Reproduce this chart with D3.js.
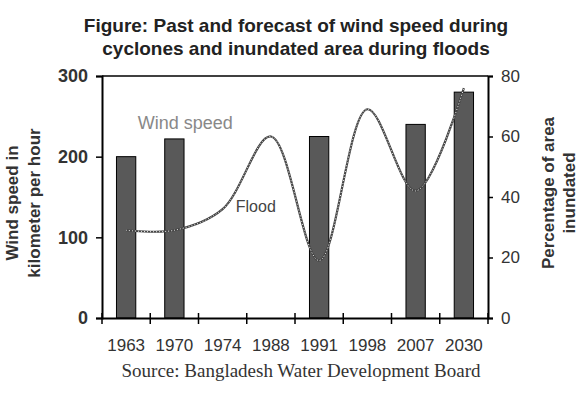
<!DOCTYPE html>
<html>
<head>
<meta charset="utf-8">
<script src="https://cdn.jsdelivr.net/npm/d3@7"></script>
<style>
  body { margin: 0; background: #fff; }
  text { font-family: "Liberation Sans", Arial, sans-serif; }
</style>
</head>
<body>
<svg id="chart" width="587" height="396"></svg>
<script>
// categories and values
var years = ["1963", "1970", "1974", "1988", "1991", "1998", "2007", "2030"];
var windYears = ["1963", "1970", "1991", "2007", "2030"];
var windSpeed = [200, 222, 225, 240, 280];        // km per hour
var floodArea = [29, 29, 36, 60, 19, 69, 42, 76]; // percent inundated
var leftTicks = [0, 100, 200, 300];
var rightTicks = [0, 20, 40, 60, 80];

var margin = {top: 76, right: 99, bottom: 78, left: 102},
    width = 587 - margin.left - margin.right,
    height = 396 - margin.top - margin.bottom;

var svg = d3.select("#chart");
var g = svg.append("g")
    .attr("transform", "translate(" + margin.left + "," + margin.top + ")");

var x = d3.scaleBand().domain(years).range([0, width]).paddingInner(0.6).paddingOuter(0.3),
    xc = d3.scaleBand().domain(years).range([0, width]), // full bands for the ticks
    yL = d3.scaleLinear().domain([0, 300]).range([height, 0]),
    yR = d3.scaleLinear().domain([0, 80]).range([height, 0]);

// title
svg.append("text")
    .attr("x", 296).attr("y", 32)
    .attr("text-anchor", "middle")
    .style("font-size", "19px").style("font-weight", "bold").style("fill", "#222")
    .text("Figure: Past and forecast of wind speed during");
svg.append("text")
    .attr("x", 296).attr("y", 55)
    .attr("text-anchor", "middle")
    .style("font-size", "19px").style("font-weight", "bold").style("fill", "#222")
    .text("cyclones and inundated area during floods");

// bars
var bars = windYears.map(function(d, i) { return {year: d, value: windSpeed[i]}; });
g.selectAll(".bar")
    .data(bars)
    .enter().append("rect")
    .attr("class", "bar")
    .attr("x", function(d) { return x(d.year); })
    .attr("y", function(d) { return yL(d.value); })
    .attr("width", x.bandwidth())
    .attr("height", function(d) { return height - yL(d.value); })
    .attr("fill", "#595959")
    .attr("stroke", "#000")
    .attr("stroke-width", 1);

// flood line: dark line with white dots on top
var line = d3.line()
    .x(function(d, i) { return xc(years[i]) + xc.bandwidth() / 2; })
    .y(function(d) { return yR(d); })
    .curve(d3.curveCatmullRom.alpha(0.5));

g.append("path")
    .datum(floodArea)
    .attr("d", line)
    .attr("fill", "none")
    .attr("stroke", "#444")
    .attr("stroke-width", 2.2);
g.append("path")
    .datum(floodArea)
    .attr("d", line)
    .attr("fill", "none")
    .attr("stroke", "#fff")
    .attr("stroke-width", 0.9)
    .attr("stroke-dasharray", "1,2");

// frame: top line
g.append("line")
    .attr("x1", 0).attr("x2", width)
    .attr("y1", 0).attr("y2", 0)
    .attr("stroke", "#000").attr("stroke-width", 1.5);

// left axis
var left = g.append("g")
    .call(d3.axisLeft(yL).tickValues(leftTicks).tickSize(6).tickPadding(8));
left.selectAll("text").style("font-size", "18px").style("font-weight", "bold").style("fill", "#333");

// right axis
var right = g.append("g")
    .attr("transform", "translate(" + width + ",0)")
    .call(d3.axisRight(yR).tickValues(rightTicks).tickSize(5).tickPadding(8));
right.selectAll("text").style("font-size", "17px").style("fill", "#333");

// bottom axis: line plus crossing ticks at band edges
var bottom = g.append("g")
    .attr("transform", "translate(0," + height + ")")
    .call(d3.axisBottom(xc).tickSize(0).tickPadding(21));
bottom.selectAll("text").style("font-size", "17px").style("fill", "#333");
var edges = years.map(function(d) { return xc(d); }).concat([width]);
bottom.selectAll(".edge")
    .data(edges)
    .enter().append("line")
    .attr("class", "edge")
    .attr("x1", function(d) { return d; }).attr("x2", function(d) { return d; })
    .attr("y1", -5).attr("y2", 6)
    .attr("stroke", "#000").attr("stroke-width", 1.5);

g.selectAll(".domain").attr("stroke-width", 2);
g.selectAll(".tick line").attr("stroke-width", 1.5);

// labels inside the plot
g.append("text")
    .attr("x", xc("1970") + 35).attr("y", yL(234))
    .attr("text-anchor", "middle")
    .style("font-size", "18px").style("fill", "#888")
    .text("Wind speed");
g.append("text")
    .attr("x", xc("1988") - 11).attr("y", yR(35))
    .style("font-size", "16px").style("fill", "#444")
    .text("Flood");

// axis titles
var lt = svg.append("text")
    .attr("transform", "translate(18," + (margin.top + height / 2 + 6) + ") rotate(-90)")
    .attr("text-anchor", "middle")
    .style("font-size", "17px").style("font-weight", "bold").style("fill", "#333");
lt.append("tspan").attr("x", 0).attr("dy", 0).text("Wind speed in");
lt.append("tspan").attr("x", 0).attr("dy", 22).text("kilometer per hour");

var rt = svg.append("text")
    .attr("transform", "translate(554," + (margin.top + height / 2 - 4) + ") rotate(-90)")
    .attr("text-anchor", "middle")
    .style("font-size", "17px").style("font-weight", "bold").style("fill", "#333");
rt.append("tspan").attr("x", 0).attr("dy", 0).text("Percentage of area");
rt.append("tspan").attr("x", 0).attr("dy", 21).text("inundated");

// source
svg.append("text")
    .attr("x", 301).attr("y", 377)
    .attr("text-anchor", "middle")
    .style("font-family", "'Liberation Serif', 'Times New Roman', serif")
    .style("font-size", "19px").style("fill", "#333")
    .text("Source: Bangladesh Water Development Board");
</script>
</body>
</html>
